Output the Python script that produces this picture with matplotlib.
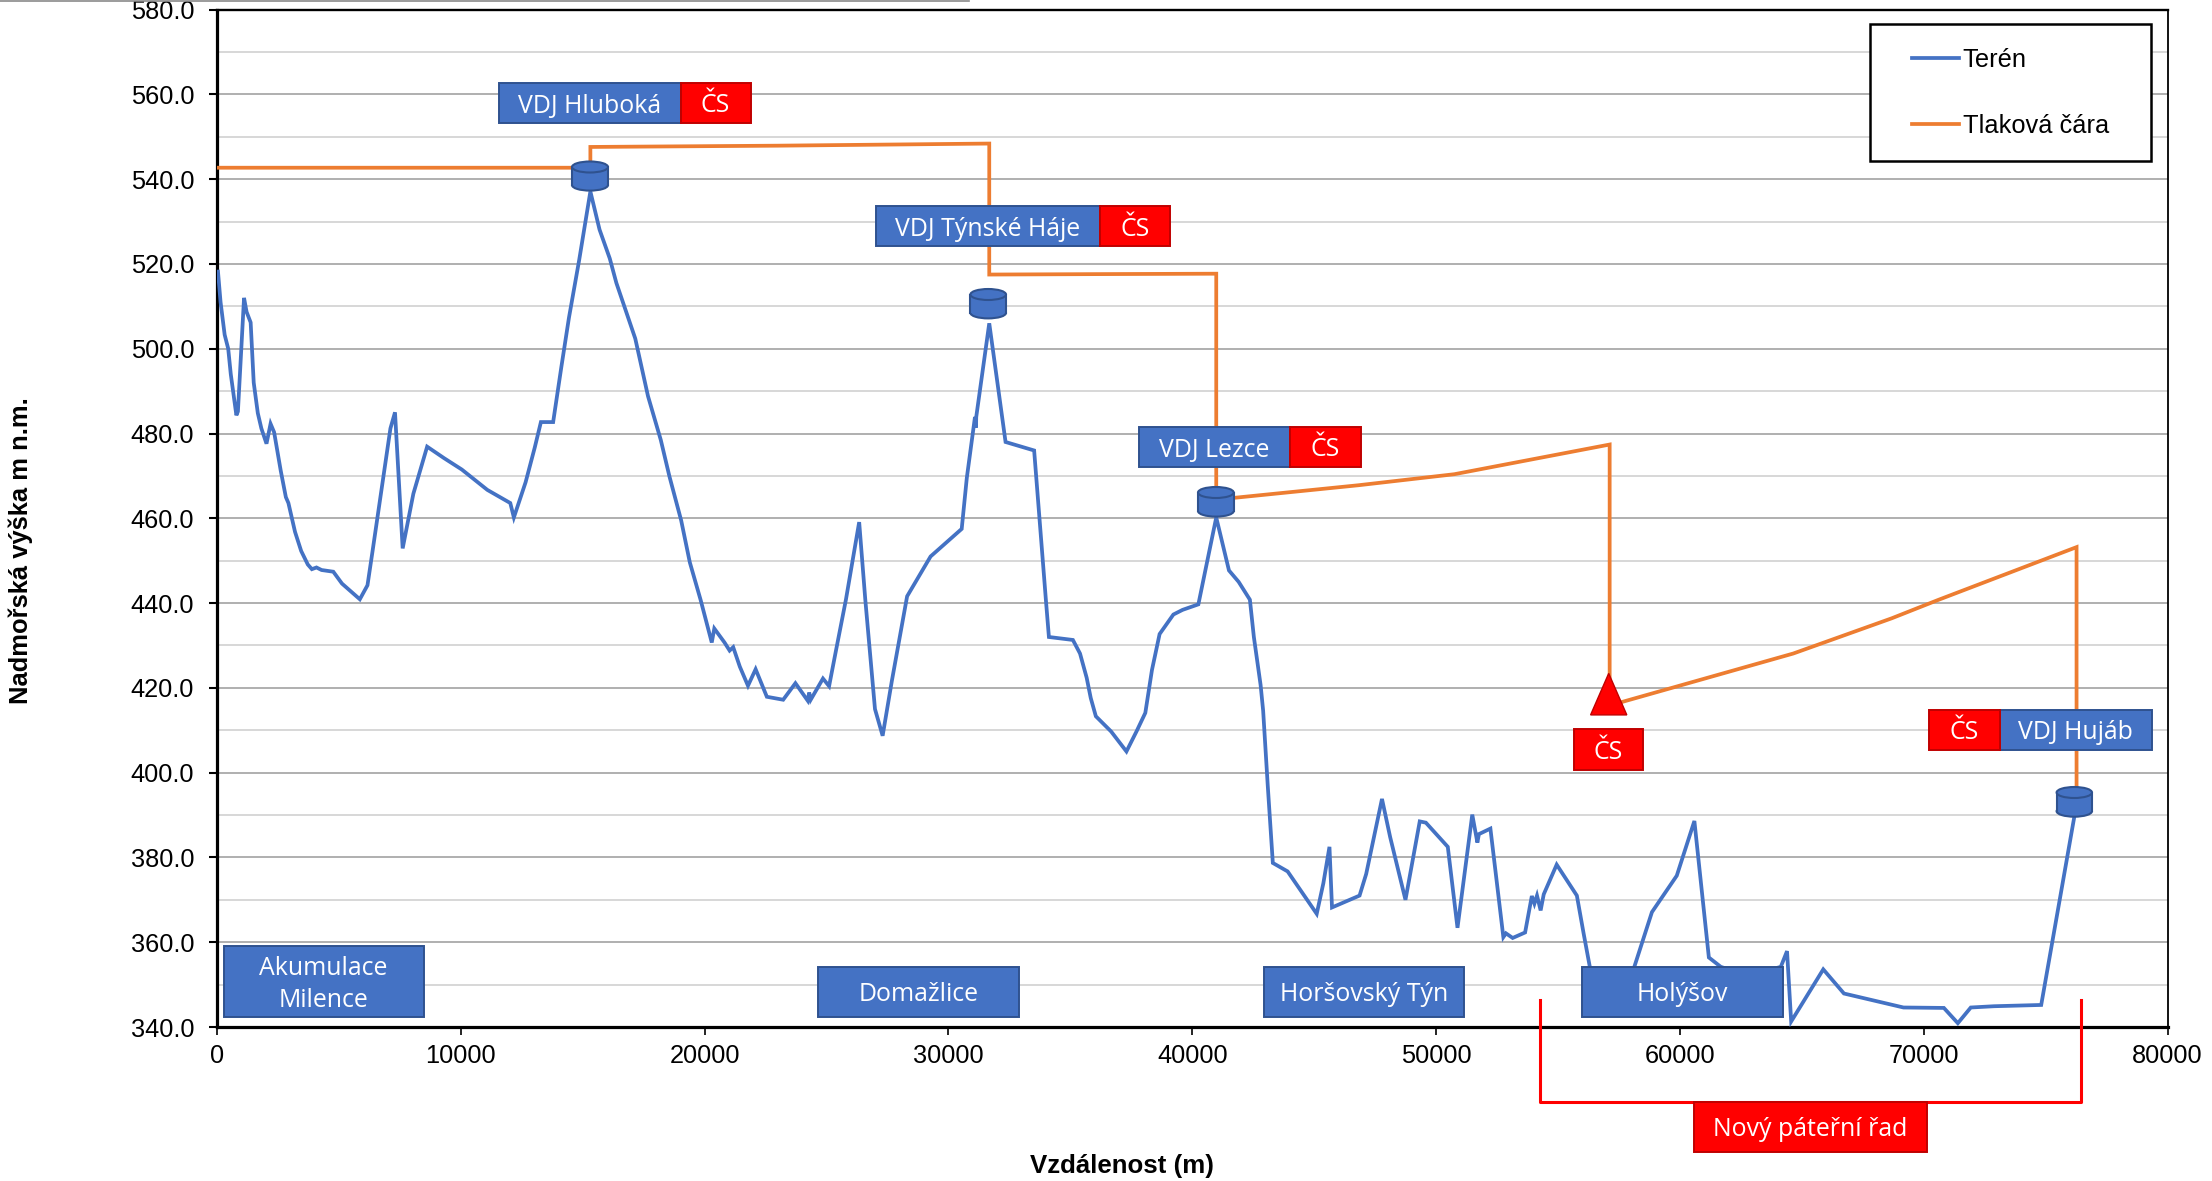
import matplotlib
matplotlib.use("Agg")
import matplotlib.pyplot as plt
from matplotlib.patches import Rectangle, Polygon, Ellipse
from matplotlib.lines import Line2D
from matplotlib.transforms import Affine2D

W, H = 2212, 1181
BODY = "Liberation Sans"
BOX = "Open Sans"
BLUE, BLUE_E, ORANGE, RED, RED_E = "#4472C4", "#2F528F", "#ED7D31", "#FF0000", "#C00000"

terrain_x = [40, 146, 314, 460, 565, 690, 795, 858, 1109, 1213, 1380, 1506, 1674, 1820, 2030, 2197, 2343, 2615,
             2824, 2929, 3200, 3452, 3724, 3891, 4080, 4289, 4770, 5126, 5858, 6172, 6381, 7113, 7301, 7615, 8054,
             8619, 9310, 10042, 11088, 12029, 12176, 12657, 13033, 13285, 13787, 14121, 14435, 14854, 15314, 15690,
             16109, 16381, 17155, 17678, 18201, 18556, 19038, 19393, 19833, 20293, 20397, 20816, 21025, 21172,
             21444, 21778, 22092, 22552, 23222, 23724, 24226, 24289, 24351, 24854, 25105, 25377, 25795, 26339,
             26590, 26987, 27301, 27678, 28305, 29268, 30544, 30753, 31088, 31130, 31140, 31674, 32343, 33515,
             33996, 34121, 35105, 35397, 35669, 35837, 36046, 36674, 37301, 37720, 38075, 38347, 38661, 39226,
             39603, 40251, 40984, 41506, 41904, 42364, 42527, 42803, 42908, 43096, 43305, 43912, 45105, 45377,
             45628, 45732, 46862, 47134, 47782, 48117, 48745, 49331, 49582, 50481, 50879, 51485, 51695, 51757,
             52229, 52760, 52866, 53142, 53652, 53928, 54034, 54140, 54289, 54416, 54947, 55775, 56051, 56306,
             57006, 57500, 58132, 58854, 59873, 60595, 61189, 61677, 62800, 64140, 64395, 64565, 65881, 66730,
             69172, 70828, 71401, 71932, 72887, 74820, 76221]
terrain_y = [518.2, 511, 503.3, 500, 494, 488.8, 484.3, 485.2, 512, 508.7, 506.2, 492, 484.8, 481.2, 477.6, 482.3,
             480.3, 471.2, 465, 463.6, 456.8, 452.3, 449.1, 448, 448.4, 447.8, 447.4, 444.6, 440.9, 444.2, 452.3,
             481.2, 485, 452.9, 465.8, 476.9, 474.2, 471.5, 466.7, 463.6, 460.2, 468.5, 476.7, 482.7, 482.7, 495.6,
             507.3, 520.9, 537.1, 528.1, 521.3, 515.5, 502.4, 488.8, 478.5, 469.9, 459.5, 449.6, 440.8, 430.7, 434,
             430.7, 428.8, 429.6, 425, 420.5, 424.4, 417.9, 417.2, 421.1, 417, 418.9, 417.2, 422.2, 420.4, 428.5,
             440.8, 459.1, 440.8, 415, 408.7, 421.6, 441.6, 451, 457.5, 469.5, 483.9, 481.4, 483.9, 506, 478, 476,
             440.8, 432, 431.3, 428.1, 422.4, 417.6, 413.3, 409.7, 405, 409.8, 414.1, 424.2, 432.7, 437.3, 438.4,
             439.7, 460.2, 447.7, 445, 440.8, 432, 420.7, 414.6, 397, 378.7, 376.7, 366.7, 373.9, 382.5, 368.2, 371,
             376.1, 393.8, 384.8, 370, 388.5, 388.2, 382.5, 363.4, 390.1, 383.5, 385.5, 386.8, 361.2, 362.1, 361,
             362.3, 370.9, 369.1, 371, 367.5, 371.3, 378.3, 371, 362.1, 354.2, 345, 345, 354.2, 367.1, 375.7, 388.6,
             356.4, 354.2, 352, 354.2, 357.9, 341.3, 353.6, 347.9, 344.6, 344.5, 340.9, 344.6, 344.9, 345.2, 391]

pressure_x = [0, 15314, 15314, 23000, 31674, 31674, 36000, 40984, 40984, 46820, 50750, 57120, 57120, 57643, 64650,
              68684, 70620, 76270, 76270]
pressure_y = [542.7, 542.7, 547.6, 547.9, 548.4, 517.5, 517.6, 517.7, 464.4, 467.8, 470.4, 477.4, 415.5, 416.7,
              428.1, 436.4, 440.8, 453.2, 395]

y_ticks = list(range(340, 581, 20))
y_minor = list(range(350, 580, 20))
x_ticks = list(range(0, 80001, 10000))

fig = plt.figure(figsize=(W / 100, H / 100), dpi=100)
ax = fig.add_axes([217 / W, 1 - 1027 / H, 1950.5 / W, (1027 - 9.6) / H])
px = Affine2D().scale(1 / W, -1 / H).translate(0, 1) + fig.transFigure

ln_t, = ax.plot(terrain_x, terrain_y, color=BLUE, lw=2.7, label="Terén", solid_joinstyle="miter", zorder=3)
ln_p, = ax.plot(pressure_x, pressure_y, color=ORANGE, lw=2.7, label="Tlaková čára", solid_joinstyle="miter", zorder=3)

ax.set_xlim(0, 80000)
ax.set_ylim(340, 580)
ax.set_xticks(x_ticks)
ax.set_yticks(y_ticks)
ax.set_yticklabels([f"{v:.1f}" for v in y_ticks], fontsize=18.3, family=BODY)
ax.set_xticklabels([str(v) for v in x_ticks], fontsize=18.3, family=BODY)
ax.set_yticks(y_minor, minor=True)
ax.tick_params(axis="y", which="minor", length=0)
ax.tick_params(axis="y", which="major", length=5.5, width=1.5, pad=11)
ax.tick_params(axis="x", which="major", length=5.5, width=1.2, pad=7)
ax.set_axisbelow(True)
ax.grid(True, axis="y", which="major", color="#9a9a9a", lw=1.1)
ax.grid(True, axis="y", which="minor", color="#d4d4d4", lw=1.3)
for s, lw in (("left", 2.3), ("bottom", 2.3), ("top", 1.7), ("right", 1.3)):
    ax.spines[s].set_linewidth(lw)
    ax.spines[s].set_color("black")

fig.text(1122 / W, 1 - 1165.5 / H, "Vzdálenost (m)", ha="center", va="center", fontsize=18.6,
         fontweight="bold", family=BODY)
fig.text(21 / W, 1 - 551 / H, "Nadmořská výška m n.m.", ha="center", va="center", rotation=90, fontsize=18.4,
         fontweight="bold", family=BODY)

fig.add_artist(Line2D([0, 969], [0.7, 0.7], transform=px, color="#8a8a8a", lw=1.2))


def box(x0, x1, y0, y1, text, face=BLUE, edge=BLUE_E, size=17.9):
    fig.add_artist(Rectangle((x0, y0), x1 - x0, y1 - y0, transform=px, facecolor=face, edgecolor=edge, lw=1.4,
                             zorder=5))
    fig.text((x0 + x1) / 2 / W, 1 - ((y0 + y1) / 2 + 3) / H, text, color="white", ha="center", va="center",
             fontsize=size, family=BOX, zorder=6, linespacing=1.36)


def tank(x0, x1, y0, y1):
    eh = 11
    cx = (x0 + x1) / 2
    kw = dict(transform=px, facecolor=BLUE, edgecolor=BLUE_E, lw=1.5, zorder=5)
    fig.add_artist(Ellipse((cx, y1 - eh / 2), x1 - x0, eh, **kw))
    fig.add_artist(Rectangle((x0, y0 + eh / 2), x1 - x0, y1 - y0 - eh, transform=px, facecolor=BLUE, edgecolor="none",
                             zorder=5))
    fig.add_artist(Line2D([x0, x0], [y0 + eh / 2, y1 - eh / 2], transform=px, color=BLUE_E, lw=1.5, zorder=5))
    fig.add_artist(Line2D([x1, x1], [y0 + eh / 2, y1 - eh / 2], transform=px, color=BLUE_E, lw=1.5, zorder=5))
    fig.add_artist(Ellipse((cx, y0 + eh / 2), x1 - x0, eh, **kw))


for b in [(499, 680.6, 83, 123, "VDJ Hluboká"), (876, 1099.5, 206, 246, "VDJ Týnské Háje"),
          (1139, 1290, 426.7, 467.3, "VDJ Lezce"), (1999.7, 2152, 709.7, 750, "VDJ Hujáb"),
          (223.5, 423.5, 946, 1016.8, "Akumulace\nMilence"), (818, 1019, 966.8, 1016.8, "Domažlice"),
          (1264, 1464, 966.8, 1016.8, "Horšovský Týn"), (1582, 1783, 966.8, 1016.8, "Holýšov")]:
    box(*b)
for b in [(680.6, 750.5, 83, 123), (1099.5, 1170, 206, 246), (1290, 1361, 426.7, 467.3), (1573.5, 1643.4, 729, 769.7),
          (1929, 1999.7, 709.7, 750)]:
    box(*b, "ČS", face=RED, edge=RED_E)

for t in [(572, 608, 161.5, 190.6), (970.4, 1006, 289, 318.4), (1198, 1233.7, 487, 516.6), (2056.6, 2092, 787, 816.7)]:
    tank(*t)

fig.add_artist(Polygon([(1608.7, 673.4), (1626.8, 714.9), (1590.6, 714.9)], transform=px, facecolor=RED,
                       edgecolor=RED_E, lw=1, zorder=5))
fig.add_artist(Line2D([1540, 1540, 2080.5, 2080.5], [1000, 1102, 1102, 1000], transform=px, color=RED, lw=2.2, zorder=4))
box(1693.6, 1927, 1102, 1152, "Nový páteřní řad", face=RED, edge=RED_E)

fig.add_artist(Rectangle((1870, 23.7), 281, 137.3, transform=px, facecolor="white", edgecolor="black", lw=1.8,
                         zorder=5))
leg = ax.legend(handles=[ln_t, ln_p], loc="upper left", bbox_to_anchor=(1911.6 / W, 1 - 48 / H),
                bbox_transform=fig.transFigure, frameon=False, borderpad=0, borderaxespad=0, handlelength=1.86,
                handletextpad=0.15, labelspacing=1.66, prop={"family": BODY, "size": 18.3})
leg.remove()
fig.add_artist(leg)
leg.set_zorder(10)

fig.savefig("out.png", dpi=100)
